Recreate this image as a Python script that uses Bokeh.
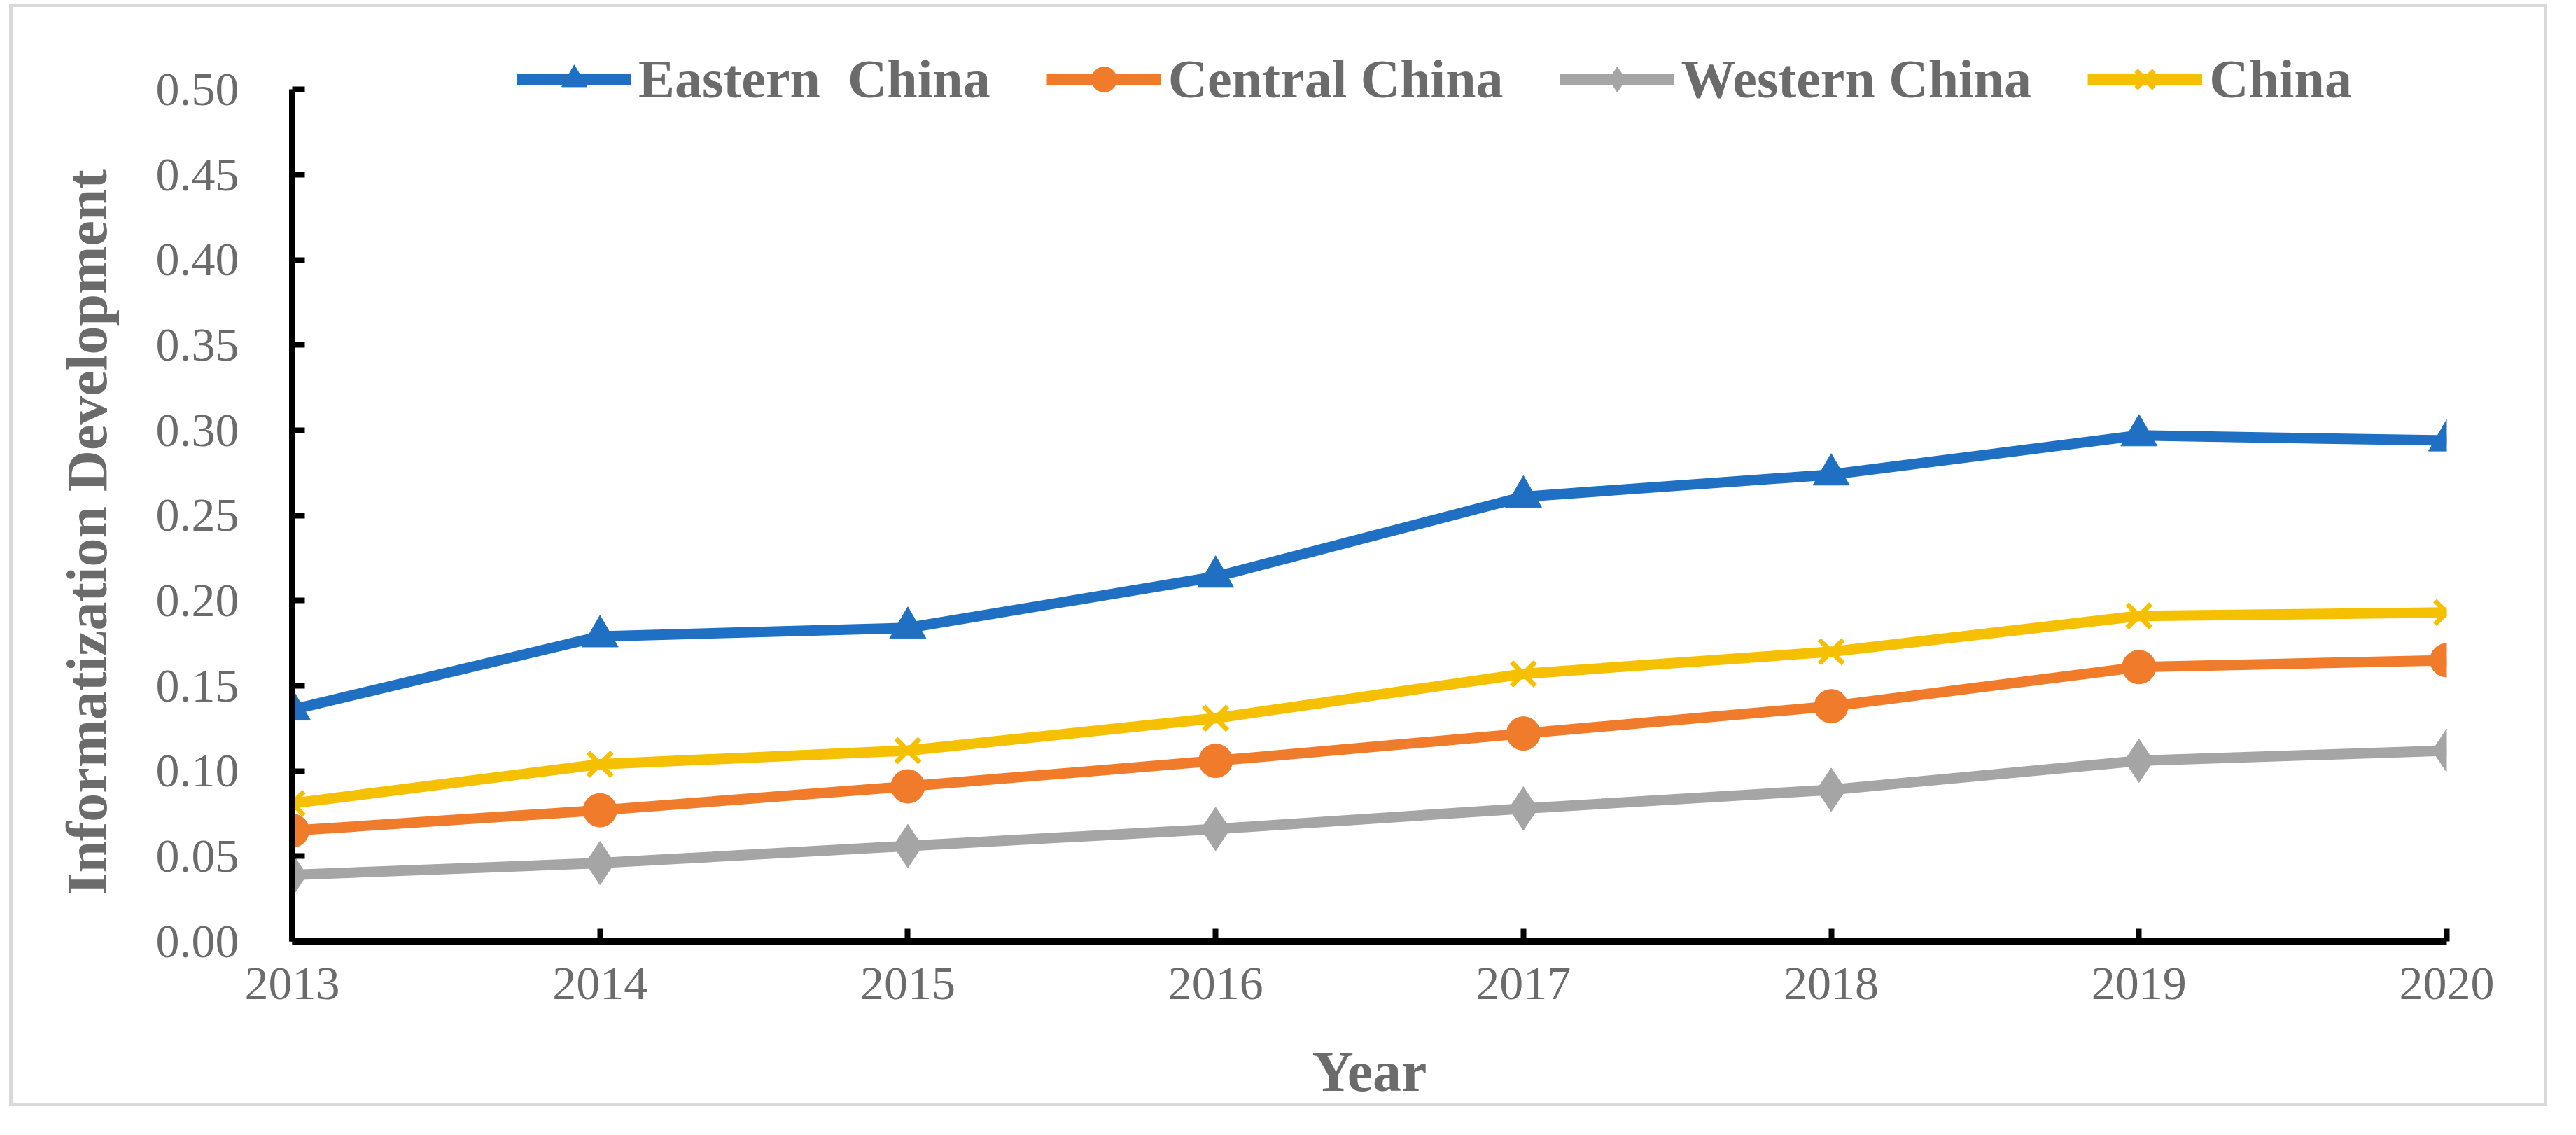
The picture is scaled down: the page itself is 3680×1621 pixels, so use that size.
from bokeh.plotting import figure
from bokeh.models import Range1d, FixedTicker, NumeralTickFormatter, Legend, LegendItem, Title
from bokeh.embed import file_html
from bokeh.resources import INLINE

years = [2013, 2014, 2015, 2016, 2017, 2018, 2019, 2020]
eastern = [0.136, 0.179, 0.184, 0.214, 0.261, 0.274, 0.297, 0.294]
central = [0.065, 0.077, 0.091, 0.106, 0.122, 0.138, 0.161, 0.165]
western = [0.039, 0.046, 0.056, 0.066, 0.078, 0.089, 0.106, 0.112]
china = [0.081, 0.104, 0.112, 0.131, 0.157, 0.170, 0.191, 0.193]
y_ticks = [0.0, 0.05, 0.10, 0.15, 0.20, 0.25, 0.30, 0.35, 0.40, 0.45, 0.50]

FONT = "Liberation Serif"
TXT = "#6b6b6b"

W, H = 3626, 1575
p = figure(width=W, height=H, output_backend="svg", toolbar_location=None,
           x_range=Range1d(2013, 2020), y_range=Range1d(0, 0.54),
           min_border_left=399, min_border_right=149,
           min_border_top=20, min_border_bottom=241)
p.styles = {"border": "5px solid #d9d9d9", "margin-left": "13px", "margin-top": "5px"}
p.background_fill_color = "white"
p.border_fill_color = "white"
p.outline_line_color = None
p.grid.visible = False

for ax in (p.xaxis[0], p.yaxis[0]):
    ax.axis_line_color = "black"
    ax.axis_line_width = 9
    ax.major_tick_line_color = "black"
    ax.major_tick_line_width = 8
    ax.major_tick_in = 18
    ax.major_tick_out = 0
    ax.minor_tick_line_color = None
    ax.major_label_text_font = FONT
    ax.major_label_text_font_size = "68px"
    ax.major_label_text_color = TXT
    ax.axis_label_text_font = FONT
    ax.axis_label_text_font_size = "82px"
    ax.axis_label_text_font_style = "bold"
    ax.axis_label_text_color = TXT

p.xaxis.ticker = FixedTicker(ticks=years)
p.xaxis.axis_label = "Year"
p.xaxis.major_label_standoff = 38
p.xaxis.axis_label_standoff = 55

p.yaxis.ticker = FixedTicker(ticks=y_ticks)
p.yaxis.bounds = (0, 0.5)
p.yaxis.formatter = NumeralTickFormatter(format="0.00")
p.yaxis.major_label_standoff = 76

ytitle = Title(text="Informatization Development", align="left", offset=66,
               standoff=100, text_font=FONT, text_font_size="82px",
               text_font_style="bold", text_color=TXT)
p.add_layout(ytitle, "left")

series = [
    ("Eastern  China", eastern, "#1f6fc3", "triangle", 52),
    ("Central China", central, "#f07b2a", "circle", 48),
    ("Western China", western, "#a5a5a5", "diamond", 62),
    ("China", china, "#f5c000", "x", 48),
]

items = []
for label, vals, color, marker, size in series:
    lr = p.line(years, vals, line_color=color, line_width=15)
    if marker == "x":
        sr = p.scatter(years, vals, marker=marker, size=size, line_color=color,
                       line_width=7, fill_color=None)
    else:
        sr = p.scatter(years, vals, marker=marker, size=size, fill_color=color,
                       line_color=color, line_width=1)
    items.append(LegendItem(label=label, renderers=[lr, sr]))

legend = Legend(items=items, location=(321, 1186), orientation="horizontal",
                label_text_font=FONT, label_text_font_size="78px",
                label_text_font_style="bold", label_text_color=TXT,
                glyph_width=164, glyph_height=90, label_height=90,
                label_standoff=10, spacing=80, padding=0, margin=0,
                border_line_color=None, background_fill_alpha=0)
p.add_layout(legend, "center")

open("out.html", "w").write(file_html(p, INLINE))
